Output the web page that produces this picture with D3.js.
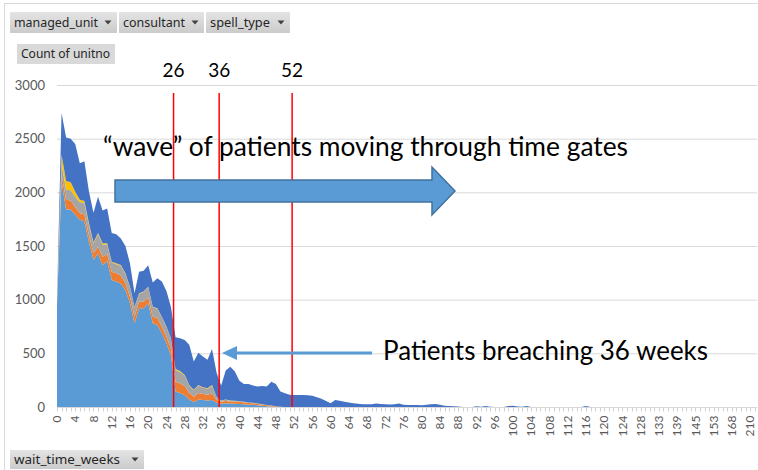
<!DOCTYPE html>
<html>
<head>
<meta charset="utf-8">
<script src="https://cdn.jsdelivr.net/npm/d3@7"></script>
<style>
  body { margin: 0; background: #fff; }
  svg { display: block; }
</style>
</head>
<body>
<div id="chart"></div>
<script>
// wait time (weeks) categories, as they appear on the pivot axis
const weeks = [
  0,1,2,3,4,5,6,7,8,9,10,11,12,13,14,15,16,17,18,19,
  20,21,22,23,24,25,26,27,28,29,30,31,32,33,34,35,36,37,38,39,
  40,41,42,43,44,45,46,47,48,49,50,51,52,53,54,55,56,57,58,59,
  60,61,62,63,64,65,66,67,68,69,70,71,72,73,74,75,76,77,78,79,
  80,81,82,83,84,85,86,87,88,89,90,91,92,93,94,95,96,97,98,99,
  100,101,102,103,104,105,106,107,108,109,110,111,112,113,114,115,116,117,118,119,
  120,121,122,123,124,125,126,127,128,129,130,131,133,134,135,137,139,140,142,143,
  145,147,149,151,153,156,160,163,168,174,182,195,210,225
];

// count of unitno, stacked series (bottom to top)
const series1 = [
  950,2100,1840,1840,1790,1745,1730,1540,1370,1430,
  1320,1360,1184,1168,1150,1090,966,780,919,919,
  966,780,765,686,593,480,145,130,110,70,
  45,70,65,60,65,40,30,35,32,30,
  28,25,22,20,16,12,8,5,2,0,
  0,0,0,0,0,0,0,0,0,0, 0,0,0,0,0,0,0,0,0,0,
  0,0,0,0,0,0,0,0,0,0, 0,0,0,0,0,0,0,0,0,0,
  0,0,0,0,0,0,0,0,0,0, 0,0,0,0,0,0,0,0,0,0,
  0,0,0,0,0,0,0,0,0,0, 0,0,0,0,0,0,0,0,0,0,
  0,0,0,0,0,0,0,0,0,0, 0,0,0,0,0,0,0,0,0,0,
  0,0,0,0
];
const series2 = [
  20,70,90,85,70,60,65,60,62,62,
  80,65,77,78,75,63,62,60,62,62,
  55,62,65,62,62,60,90,90,85,60,
  50,60,55,55,60,25,20,22,20,20,
  20,18,16,14,12,10,8,6,4,2,
  0,0,0,0,0,0,0,0,0,0, 0,0,0,0,0,0,0,0,0,0,
  0,0,0,0,0,0,0,0,0,0, 0,0,0,0,0,0,0,0,0,0,
  0,0,0,0,0,0,0,0,0,0, 0,0,0,0,0,0,0,0,0,0,
  0,0,0,0,0,0,0,0,0,0, 0,0,0,0,0,0,0,0,0,0,
  0,0,0,0,0,0,0,0,0,0, 0,0,0,0,0,0,0,0,0,0,
  0,0,0,0
];
const series3 = [
  20,100,95,95,100,105,105,100,93,120,
  115,90,85,85,90,85,85,90,73,90,
  95,88,85,90,90,95,110,105,95,70,
  60,70,60,55,70,25,8,10,5,5,
  4,3,3,3,2,2,2,1,1,0,
  0,0,0,0,0,0,0,0,0,0, 0,0,0,0,0,0,0,0,0,0,
  0,0,0,0,0,0,0,0,0,0, 0,0,0,0,0,0,0,0,0,0,
  0,0,0,0,0,0,0,0,0,0, 0,0,0,0,0,0,0,0,0,0,
  0,0,0,0,0,0,0,0,0,0, 0,0,0,0,0,0,0,0,0,0,
  0,0,0,0,0,0,0,0,0,0, 0,0,0,0,0,0,0,0,0,0,
  0,0,0,0
];
const series4 = [
  5,80,80,75,45,20,20,15,10,10,
  10,10,8,8,8,8,8,5,5,5,
  5,5,5,4,4,4,10,10,8,5,
  5,5,5,5,10,3,2,3,3,3,
  2,2,2,2,2,1,1,1,1,0,
  0,0,0,0,0,0,0,0,0,0, 0,0,0,0,0,0,0,0,0,0,
  0,0,0,0,0,0,0,0,0,0, 0,0,0,0,0,0,0,0,0,0,
  0,0,0,0,0,0,0,0,0,0, 0,0,0,0,0,0,0,0,0,0,
  0,0,0,0,0,0,0,0,0,0, 0,0,0,0,0,0,0,0,0,0,
  0,0,0,0,0,0,0,0,0,0, 0,0,0,0,0,0,0,0,0,0,
  0,0,0,0
];
const series5 = [
  5,390,405,405,445,340,370,295,275,338,
  305,325,266,271,247,254,219,125,201,194,
  199,225,280,328,331,291,295,305,327,375,
  265,300,285,265,335,227,140,270,315,272,
  191,167,171,161,158,171,171,223,206,143,
  128,115,112,112,112,110,105,90,78,55,
  34,65,58,50,42,35,30,25,25,25,
  33,28,25,24,25,33,22,19,18,19,
  17,20,26,28,22,12,10,6,4,0,
  0,0,8,3,10,2,0,0,0,10,
  12,4,2,10,0,0,0,0,0,0,
  0,0,0,0,0,0,10,0,0,0,
  0,0,0,0,0,0,0,0,0,0, 0,0,0,0,0,0,0,0,0,0,
  0,0,0,0,0,0,0,0,0,0, 0,0,0,0
];

const seriesColors = ["#5B9BD5", "#ED7D31", "#A5A5A5", "#FFC000", "#4472C4"];
const yTicks = [0, 500, 1000, 1500, 2000, 2500, 3000];
const gateWeeks = [26, 36, 52];
const waveText = "\u201cwave\u201d of patients moving through time gates";
const breachText = "Patients breaching 36 weeks";

const width = 758, height = 470;
const margin = { left: 57, right: 3, top: 85, bottom: 63 };

const keys = ["s1", "s2", "s3", "s4", "s5"];
const table = weeks.map((w, i) => ({
  idx: i, week: w,
  s1: series1[i], s2: series2[i], s3: series3[i], s4: series4[i], s5: series5[i]
}));
const stacked = d3.stack().keys(keys)(table);

const svg = d3.select("#chart").append("svg")
  .attr("width", width).attr("height", height);

const defs = svg.append("defs");
const grad = defs.append("linearGradient").attr("id", "btnGrad")
  .attr("x1", 0).attr("y1", 0).attr("x2", 0).attr("y2", 1);
grad.append("stop").attr("offset", "0%").attr("stop-color", "#e4e4e4");
grad.append("stop").attr("offset", "100%").attr("stop-color", "#cbcbcb");

// chart frame
svg.append("rect").attr("x", 4.5).attr("y", 3.5)
  .attr("width", 770).attr("height", 480)
  .attr("fill", "none").attr("stroke", "#d9d9d9");

const x = d3.scalePoint()
  .domain(table.map(d => d.idx))
  .range([margin.left, margin.left + (weeks.length - 1) * 4.56]);
const y = d3.scaleLinear().domain([0, 3000]).range([height - margin.bottom, margin.top]);

// gridlines
svg.append("g").selectAll("line").data(yTicks.slice(1)).join("line")
  .attr("x1", margin.left).attr("x2", width - 1)
  .attr("y1", d => y(d) + 0.5).attr("y2", d => y(d) + 0.5)
  .attr("stroke", "#d9d9d9").attr("stroke-width", 1);

// y labels
svg.append("g").selectAll("text").data(yTicks).join("text")
  .attr("x", 45).attr("y", d => y(d))
  .attr("dy", "0.35em").attr("text-anchor", "end")
  .attr("font-family", "Lato, 'Open Sans', sans-serif").attr("font-size", 13)
  .attr("fill", "#595959").text(d => d);

// stacked areas
const area = d3.area()
  .x(d => x(d.data.idx))
  .y0(d => y(d[0]))
  .y1(d => y(d[1]));
svg.append("g").selectAll("path").data(stacked).join("path")
  .attr("d", area)
  .attr("fill", (d, i) => seriesColors[i]);

// x axis line and category ticks
const axisY = y(0) + 0.5;
svg.append("line").attr("x1", margin.left).attr("x2", width - 1)
  .attr("y1", axisY).attr("y2", axisY).attr("stroke", "#d9d9d9");
svg.append("g").selectAll("line").data(table).join("line")
  .attr("x1", d => Math.round(x(d.idx)) + 0.5).attr("x2", d => Math.round(x(d.idx)) + 0.5)
  .attr("y1", axisY).attr("y2", axisY + 4)
  .attr("stroke", "#d0d0d0");

// x labels (every 4th category, rotated)
svg.append("g").selectAll("text").data(table.filter(d => d.idx % 4 === 0)).join("text")
  .attr("transform", d => `translate(${x(d.idx)},${axisY + 8}) rotate(-90)`)
  .attr("dy", "0.35em").attr("text-anchor", "end")
  .attr("font-family", "Lato, 'Open Sans', sans-serif").attr("font-size", 12)
  .attr("fill", "#595959").text(d => d.week);

// time gates
const gateShift = -2;
const gates = svg.append("g");
gates.selectAll("line").data(gateWeeks).join("line")
  .attr("x1", d => x(weeks.indexOf(d)) + gateShift).attr("x2", d => x(weeks.indexOf(d)) + gateShift)
  .attr("y1", 93).attr("y2", y(0))
  .attr("stroke", "#ff0000").attr("stroke-width", 1.5);
gates.selectAll("text").data(gateWeeks).join("text")
  .attr("x", d => x(weeks.indexOf(d)) + gateShift).attr("y", 70)
  .attr("dy", "0.35em").attr("text-anchor", "middle")
  .attr("font-family", "Lato, 'Open Sans', sans-serif").attr("font-size", 19)
  .attr("fill", "#000").text(d => d);

// "wave" annotation
svg.append("text").attr("x", 103).attr("y", 156)
  .attr("font-family", "Lato, 'Open Sans', sans-serif").attr("font-size", 27)
  .attr("textLength", 525).attr("lengthAdjust", "spacingAndGlyphs")
  .attr("fill", "#000").text(waveText);

svg.append("path")
  .attr("d", "M115,180 L432,180 L432,167 L455,191 L432,215 L432,202 L115,202 Z")
  .attr("fill", "#5B9BD5").attr("stroke", "#41719C").attr("stroke-width", 1.5);

// breach annotation
svg.append("line").attr("x1", 372).attr("x2", 234)
  .attr("y1", 353).attr("y2", 353)
  .attr("stroke", "#5B9BD5").attr("stroke-width", 3);
svg.append("path").attr("d", "M222,353 L237,346 L237,360 Z").attr("fill", "#5B9BD5");
svg.append("text").attr("x", 383).attr("y", 360)
  .attr("font-family", "Lato, 'Open Sans', sans-serif").attr("font-size", 27)
  .attr("textLength", 325).attr("lengthAdjust", "spacingAndGlyphs")
  .attr("fill", "#000").text(breachText);

// pivot field buttons
function fieldButton(bx, by, bw, bh, label, textLen, arrow, fill) {
  const g = svg.append("g");
  g.append("rect").attr("x", bx).attr("y", by).attr("width", bw).attr("height", bh)
    .attr("fill", fill || "url(#btnGrad)");
  g.append("text").attr("x", bx + 4).attr("y", by + bh / 2)
    .attr("dy", "0.35em")
    .attr("font-family", "'Noto Sans', 'Open Sans', sans-serif").attr("font-size", 12.5)
    .attr("textLength", textLen).attr("lengthAdjust", "spacingAndGlyphs")
    .attr("fill", "#262626").text(label);
  if (arrow) {
    const tx = bx + bw - 9, ty = by + bh / 2;
    g.append("path").attr("d", `M${tx - 3.5},${ty - 2} L${tx + 3.5},${ty - 2} L${tx},${ty + 2} Z`)
      .attr("fill", "#404040");
  }
}
fieldButton(10, 12, 107, 21, "managed_unit", 84, true);
fieldButton(119, 12, 85, 21, "consultant", 62, true);
fieldButton(206, 12, 84, 21, "spell_type", 60, true);
fieldButton(17, 44, 98, 20, "Count of unitno", 89, false, "#d9d9d9");
fieldButton(10, 450, 134, 19, "wait_time_weeks", 106, true);
</script>
</body>
</html>
